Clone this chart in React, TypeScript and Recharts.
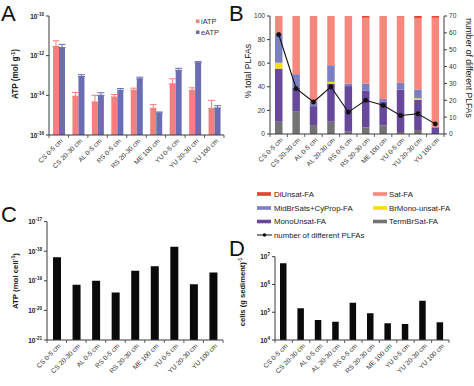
import React from 'react';
import { ComposedChart, Bar, Line, XAxis, YAxis, ErrorBar } from 'recharts';

const FONT = '"Liberation Sans", Arial, Helvetica, sans-serif';
const AXIS = '#3a3a3a';

// ---------- Panel A: ATP per gram ----------
const atpSites = ['CS 0-5 cm', 'CS 20-30 cm', 'AL 0-5 cm', 'RS 0-5 cm', 'RS 20-30 cm', 'ME 100 cm', 'YU 0-5 cm', 'YU 20-30 cm', 'YU 100 cm'];
const iATP = [2.9e-12, 9e-15, 4.6e-15, 8.2e-15, 1.8e-14, 2.2e-15, 3.8e-14, 1.8e-14, 2.2e-15];
const iATPUpper = [5.6e-12, 1.4e-14, 1e-14, 1.1e-14, 2.3e-14, 3.4e-15, 6.8e-14, 2.4e-14, 5.6e-15];
const eATP = [2.6e-12, 8.9e-14, 1e-14, 1.8e-14, 6.8e-14, 1.3e-15, 1.8e-13, 4.4e-13, 2.3e-15];
const eATPUpper = [3.7e-12, 1.1e-13, 1.35e-14, 2.2e-14, 8.2e-14, 1.45e-15, 2.3e-13, 5e-13, 3e-15];
const ticksA = [1e-16, 1e-14, 1e-12, 1e-10];

// ---------- Panel B: PLFA composition ----------
const plfaSites = ['CS 0-5 cm', 'CS 20-30 cm', 'AL 0-5 cm', 'AL 20-30 cm', 'RS 0-5 cm', 'RS 20-30 cm', 'ME 100 cm', 'YU 0-5 cm', 'YU 20-30 cm', 'YU 100 cm'];
const termBrSat = [10.4, 19.4, 7.6, 10.4, 2, 5.6, 7.3, 1.7, 3.4, 0];
const monoUnsat = [45, 20, 16, 32.4, 38.6, 31, 20, 36, 25.6, 5.2];
const brMonoUnsat = [5, 0, 0, 1.4, 0, 0, 0, 0, 1.2, 0];
const midBrSats = [24.3, 11.3, 3.6, 14.1, 2.2, 6.2, 2.3, 5.7, 7.5, 1];
const satFA = [15.3, 49.3, 72.8, 41.7, 57.2, 55.7, 70.4, 56.1, 60.3, 92.3];
const diUnsat = [0, 0, 0, 0, 0, 1.5, 0, 0.5, 2, 1.5];
const plfaCount = [59, 27, 19, 28, 13, 20, 17, 11, 12, 6];
const pctTicks = [0, 20, 40, 60, 80, 100];
const countTicks = [0, 10, 20, 30, 40, 50, 60, 70];

// ---------- Panel C: ATP per cell ----------
const atpPerCell = [6.3e-19, 7.4e-20, 1e-19, 4e-20, 2.2e-19, 3.1e-19, 1.4e-18, 7.7e-20, 1.9e-19];
const ticksC = [1e-21, 1e-20, 1e-19, 1e-18, 1e-17];

// ---------- Panel D: cells per gram ----------
const cellsPerGram = [5.8e6, 1.4e5, 5.3e4, 4.5e4, 2.2e5, 9.2e4, 4e4, 3.8e4, 2.6e5, 4.4e4];
const ticksD = [1e4, 1e5, 1e6, 1e7];

const plfaSeries = [
  { key: 'TermBrSat-FA', values: termBrSat, color: '#737373' },
  { key: 'MonoUnsat-FA', values: monoUnsat, color: '#67489b' },
  { key: 'BrMono-unsat-FA', values: brMonoUnsat, color: '#f5de12' },
  { key: 'MidBrSats+CyProp-FA', values: midBrSats, color: '#7b7fc1' },
  { key: 'Sat-FA', values: satFA, color: '#f8877d' },
  { key: 'DiUnsat-FA', values: diUnsat, color: '#e8452e' },
];

const dataA = atpSites.map((site, i) => ({
  site,
  iATP: iATP[i],
  iErr: [0, iATPUpper[i] - iATP[i]],
  eATP: eATP[i],
  eErr: [0, eATPUpper[i] - eATP[i]],
}));

const dataB = plfaSites.map((site, i) => {
  const row: any = { site, count: plfaCount[i] };
  plfaSeries.forEach((s) => { row[s.key] = s.values[i]; });
  return row;
});

const dataC = atpSites.map((site, i) => ({ site, v: atpPerCell[i] }));
const dataD = plfaSites.map((site, i) => ({ site, v: cellsPerGram[i] }));

const PowTick = (props: any) => {
  const { x, y, payload } = props;
  const exp = Math.round(Math.log10(payload.value));
  return (
    <text x={x} y={y} dy={2.5} textAnchor="end" fontFamily={FONT} fontSize={6.5} fontWeight={700} fill="#222">
      10<tspan fontSize={4.6} dy={-3}>{exp}</tspan>
    </text>
  );
};

const NumTick = (anchor: 'start' | 'end') => (props: any) => {
  const { x, y, payload } = props;
  return (
    <text x={x} y={y} dy={2.4} textAnchor={anchor} fontFamily={FONT} fontSize={6.6} fill="#333">
      {payload.value}
    </text>
  );
};

const makeXTick = (band: number, count: number) => (props: any) => {
  const { x, y, payload, index } = props;
  const h = band / 2;
  return (
    <g>
      <line x1={x - h} x2={x - h} y1={y} y2={y + 3} stroke={AXIS} strokeWidth={0.8} />
      {index === count - 1 ? <line x1={x + h} x2={x + h} y1={y} y2={y + 3} stroke={AXIS} strokeWidth={0.8} /> : null}
      <g transform={`translate(${x + 3},${y + 5})`}>
        <text textAnchor="end" transform="rotate(-45)" fontFamily={FONT} fontSize={6.6} fill="#333" dy={2}>
          {payload.value}
        </text>
      </g>
    </g>
  );
};

const axisLine = { stroke: AXIS, strokeWidth: 1 };

function PanelA() {
  return (
    <ComposedChart width={237} height={195} data={dataA} margin={{ top: 16, right: 13, bottom: 0, left: 0 }} barGap={0} barCategoryGap={0}>
      <XAxis dataKey="site" height={60} interval={0} axisLine={axisLine} tickLine={false} tickSize={0} tickMargin={0} tick={makeXTick(175 / 9, 9)} />
      <XAxis xAxisId="top" orientation="top" height={0} tick={false} tickLine={false} axisLine={axisLine} />
      <YAxis type="number" scale="log" domain={[1e-16, 1e-10]} allowDataOverflow ticks={ticksA} width={49} axisLine={axisLine} tickLine={{ stroke: AXIS }} tickSize={3} tickMargin={2} tick={PowTick} interval={0} />
      <YAxis yAxisId="frame" orientation="right" width={0} tick={false} tickLine={false} axisLine={axisLine} />
      <Bar dataKey="iATP" fill="#f47f7f" barSize={6} isAnimationActive={false}>
        <ErrorBar dataKey="iErr" width={3.5} stroke="#f47f7f" strokeWidth={1} direction="y" />
      </Bar>
      <Bar dataKey="eATP" fill="#6b6db4" barSize={6} isAnimationActive={false}>
        <ErrorBar dataKey="eErr" width={3.5} stroke="#6b6db4" strokeWidth={1} direction="y" />
      </Bar>
    </ComposedChart>
  );
}

function PanelB() {
  return (
    <ComposedChart width={237} height={195} data={dataB} margin={{ top: 16, right: 0, bottom: 0, left: 0 }} barCategoryGap={0}>
      <XAxis dataKey="site" height={61} interval={0} axisLine={axisLine} tickLine={false} tickSize={0} tickMargin={0} tick={makeXTick(174 / 10, 10)} />
      <YAxis yAxisId="pct" type="number" domain={[0, 100]} ticks={pctTicks} width={33} axisLine={axisLine} tickLine={{ stroke: AXIS }} tickSize={3} tickMargin={2} tick={NumTick('end')} interval={0} />
      <YAxis yAxisId="count" orientation="right" type="number" domain={[0, 70]} ticks={countTicks} width={30} axisLine={axisLine} tickLine={{ stroke: AXIS }} tickSize={3} tickMargin={2} tick={NumTick('start')} interval={0} />
      {plfaSeries.map((s) => (
        <Bar key={s.key} yAxisId="pct" dataKey={s.key} stackId="plfa" fill={s.color} barSize={7.5} isAnimationActive={false} />
      ))}
      <Line yAxisId="count" dataKey="count" stroke="#111" strokeWidth={1.1} dot={{ r: 2.2, fill: '#111', stroke: '#111', strokeWidth: 0.5 }} isAnimationActive={false} />
    </ComposedChart>
  );
}

function PanelC() {
  return (
    <ComposedChart width={237} height={191} data={dataC} margin={{ top: 26.6, right: 14, bottom: 0, left: 0 }} barCategoryGap={0}>
      <XAxis dataKey="site" height={46} interval={0} axisLine={axisLine} tickLine={false} tickSize={0} tickMargin={0} tick={makeXTick(176 / 9, 9)} />
      <XAxis xAxisId="top" orientation="top" height={0} tick={false} tickLine={false} axisLine={axisLine} />
      <YAxis type="number" scale="log" domain={[1e-21, 1e-17]} allowDataOverflow ticks={ticksC} width={47} axisLine={axisLine} tickLine={{ stroke: AXIS }} tickSize={3} tickMargin={2} tick={PowTick} interval={0} />
      <YAxis yAxisId="frame" orientation="right" width={0} tick={false} tickLine={false} axisLine={axisLine} />
      <Bar dataKey="v" fill="#0a0a0a" barSize={8} isAnimationActive={false} />
    </ComposedChart>
  );
}

function PanelD() {
  return (
    <ComposedChart width={237} height={191} data={dataD} margin={{ top: 61.7, right: 25, bottom: 0, left: 0 }} barCategoryGap={0}>
      <XAxis dataKey="site" height={46} interval={0} axisLine={axisLine} tickLine={false} tickSize={0} tickMargin={0} tick={makeXTick(174 / 10, 10)} />
      <XAxis xAxisId="top" orientation="top" height={0} tick={false} tickLine={false} axisLine={axisLine} />
      <YAxis type="number" scale="log" domain={[1e4, 1e7]} allowDataOverflow ticks={ticksD} width={38} axisLine={axisLine} tickLine={{ stroke: AXIS }} tickSize={3} tickMargin={2} tick={PowTick} interval={0} />
      <YAxis yAxisId="frame" orientation="right" width={0} tick={false} tickLine={false} axisLine={axisLine} />
      <Bar dataKey="v" fill="#0a0a0a" barSize={6.5} isAnimationActive={false} />
    </ComposedChart>
  );
}

const legendLeft = ['DiUnsat-FA', 'MidBrSats+CyProp-FA', 'MonoUnsat-FA'];
const legendRight = ['Sat-FA', 'BrMono-unsat-FA', 'TermBrSat-FA'];
const legendRows = [194, 208, 221.5];
const colorOf = (k: string) => plfaSeries.find((s) => s.key === k)?.color || '#000';

export default function App() {
  return (
    <div style={{ position: 'absolute', left: 0, top: 0, width: 474, height: 386, background: '#fff', overflow: 'hidden' }}>
      <div style={{ position: 'absolute', left: 0, top: 0 }}><PanelA /></div>
      <div style={{ position: 'absolute', left: 237, top: 0 }}><PanelB /></div>
      <div style={{ position: 'absolute', left: 0, top: 195 }}><PanelC /></div>
      <div style={{ position: 'absolute', left: 237, top: 195 }}><PanelD /></div>
      <svg width={474} height={386} style={{ position: 'absolute', left: 0, top: 0, pointerEvents: 'none' }} fontFamily={FONT}>
        {/* panel letters */}
        <text x={1} y={20.5} fontSize={22} fill="#111">A</text>
        <text x={229} y={20.5} fontSize={22} fill="#111">B</text>
        <text x={1} y={222} fontSize={22} fill="#111">C</text>
        <text x={229} y={256} fontSize={22} fill="#111">D</text>

        {/* axis titles */}
        <text transform="translate(18,74) rotate(-90)" textAnchor="middle" fontSize={8.2} fontWeight={700} fill="#222">
          ATP (mol g<tspan fontSize={5.5} dy={-3}>-1</tspan><tspan dy={3}>)</tspan>
        </text>
        <text transform="translate(251,71) rotate(-90)" textAnchor="middle" fontSize={8.6} fill="#222">% total PLFAs</text>
        <text transform="translate(466,68) rotate(90)" textAnchor="middle" fontSize={8.6} fill="#222">number of different PLFAs</text>
        <text transform="translate(18,281) rotate(-90)" textAnchor="middle" fontSize={7.8} fontWeight={700} fill="#222">
          ATP (mol cell<tspan fontSize={5.2} dy={-3}>-1</tspan><tspan dy={3}>)</tspan>
        </text>
        <text transform="translate(245,292) rotate(-90)" textAnchor="middle" fontSize={7.6} fontWeight={700} fill="#222">
          cells (g sediment)<tspan fontSize={5} dy={-3}>-1</tspan>
        </text>

        {/* panel A legend */}
        <rect x={196} y={19.5} width={3.5} height={3.5} fill="#f47f7f" />
        <text x={201} y={24} fontSize={7.4} fill="#333">iATP</text>
        <rect x={196} y={30.5} width={3.5} height={3.5} fill="#6b6db4" />
        <text x={201} y={35} fontSize={7.4} fill="#333">eATP</text>

        {/* panel B legend */}
        {legendLeft.map((k, i) => (
          <g key={k}>
            <rect x={257} y={legendRows[i] - 1.8} width={14} height={3.6} fill={colorOf(k)} />
            <text x={274} y={legendRows[i] + 2.8} fontSize={7.8} fill="#222">{k}</text>
          </g>
        ))}
        {legendRight.map((k, i) => (
          <g key={k}>
            <rect x={373} y={legendRows[i] - 1.8} width={14} height={3.6} fill={colorOf(k)} />
            <text x={389} y={legendRows[i] + 2.8} fontSize={7.8} fill="#222">{k}</text>
          </g>
        ))}
        <line x1={257} x2={272} y1={235} y2={235} stroke="#111" strokeWidth={1} />
        <circle cx={264.5} cy={235} r={1.8} fill="#111" />
        <text x={274} y={237.8} fontSize={7.8} fill="#222">number of different PLFAs</text>
      </svg>
    </div>
  );
}
